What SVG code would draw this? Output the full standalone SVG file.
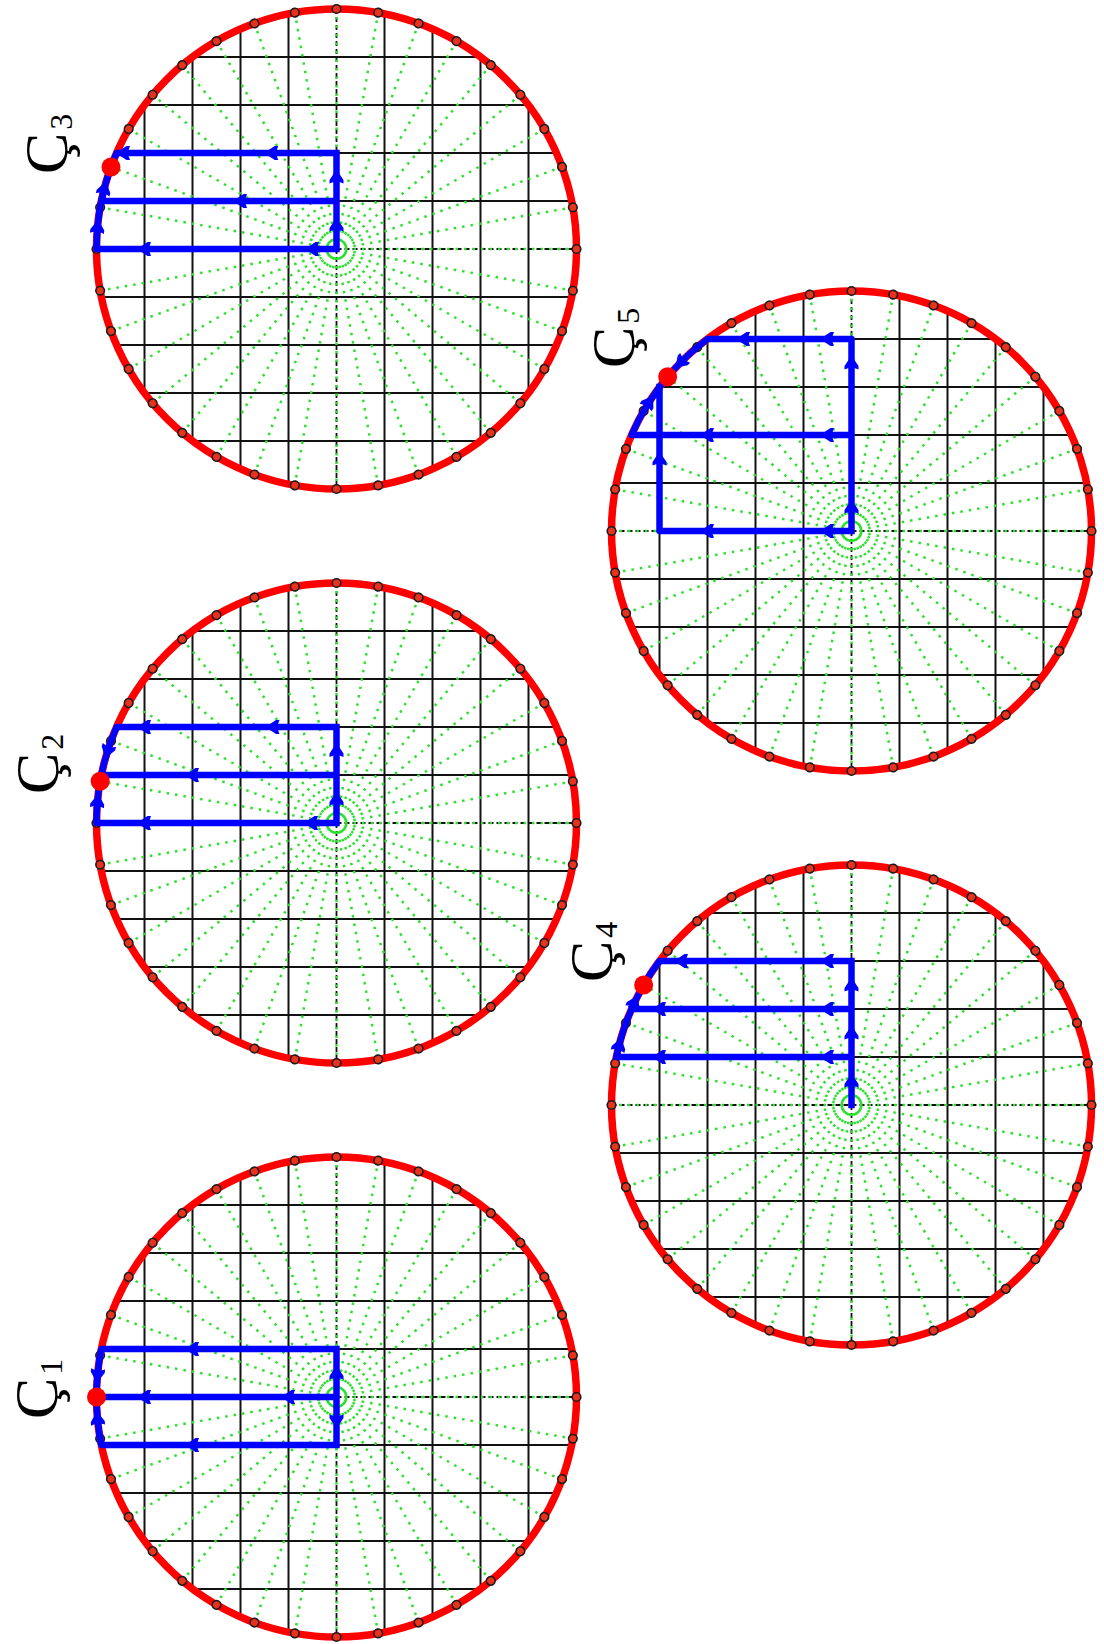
<svg xmlns="http://www.w3.org/2000/svg" xmlns:xlink="http://www.w3.org/1999/xlink" width="1104" height="1644" viewBox="0 0 1104 1644">
<style>
.grid{stroke:#111;stroke-width:2;fill:none}
.axis{stroke:#111;stroke-width:1.8;stroke-dasharray:5 3;fill:none}
.ray{stroke:#2ee02e;stroke-width:2.5;stroke-dasharray:2.5 6;fill:none}
.rim{fill:none;stroke:#ff0000;stroke-width:7.5}
.mk{fill:#e8321e;stroke:#1a1a1a;stroke-width:1.6}
.bp{fill:none;stroke:#0000ff;stroke-width:6.5;stroke-linejoin:round;stroke-linecap:square}
.arr{fill:#0000ff}
.dot{fill:#ff0000}
.lbl{font-family:"Liberation Serif","Times New Roman",serif;font-size:62px;fill:#000}
.sub{font-size:32px}
</style>
<defs>
<clipPath id="clip"><circle cx="0" cy="0" r="240"/></clipPath>
<line id="ray" class="ray" x1="0" y1="0" x2="240" y2="0"/>
<circle id="mk" class="mk" cx="240" cy="0" r="4.3"/>
<path id="ar" class="arr" d="M7.5,0 L-3,-7 L-6.5,-7 L-4,0 L-6.5,7 L-3,7 Z"/>
<g id="disc">
  <g clip-path="url(#clip)">
    <path class="grid" d="M-192,-240V240M-144,-240V240M-96,-240V240M-48,-240V240M48,-240V240M96,-240V240M144,-240V240M192,-240V240M-240,-192H240M-240,-144H240M-240,-96H240M-240,-48H240M-240,48H240M-240,96H240M-240,144H240M-240,192H240"/>
  </g>
  <path class="axis" d="M0,-240V240M-240,0H240"/>
  <use xlink:href="#ray" transform="rotate(0)"/><use xlink:href="#ray" transform="rotate(10)"/><use xlink:href="#ray" transform="rotate(20)"/><use xlink:href="#ray" transform="rotate(30)"/><use xlink:href="#ray" transform="rotate(40)"/><use xlink:href="#ray" transform="rotate(50)"/><use xlink:href="#ray" transform="rotate(60)"/><use xlink:href="#ray" transform="rotate(70)"/><use xlink:href="#ray" transform="rotate(80)"/><use xlink:href="#ray" transform="rotate(90)"/><use xlink:href="#ray" transform="rotate(100)"/><use xlink:href="#ray" transform="rotate(110)"/><use xlink:href="#ray" transform="rotate(120)"/><use xlink:href="#ray" transform="rotate(130)"/><use xlink:href="#ray" transform="rotate(140)"/><use xlink:href="#ray" transform="rotate(150)"/><use xlink:href="#ray" transform="rotate(160)"/><use xlink:href="#ray" transform="rotate(170)"/><use xlink:href="#ray" transform="rotate(180)"/><use xlink:href="#ray" transform="rotate(190)"/><use xlink:href="#ray" transform="rotate(200)"/><use xlink:href="#ray" transform="rotate(210)"/><use xlink:href="#ray" transform="rotate(220)"/><use xlink:href="#ray" transform="rotate(230)"/><use xlink:href="#ray" transform="rotate(240)"/><use xlink:href="#ray" transform="rotate(250)"/><use xlink:href="#ray" transform="rotate(260)"/><use xlink:href="#ray" transform="rotate(270)"/><use xlink:href="#ray" transform="rotate(280)"/><use xlink:href="#ray" transform="rotate(290)"/><use xlink:href="#ray" transform="rotate(300)"/><use xlink:href="#ray" transform="rotate(310)"/><use xlink:href="#ray" transform="rotate(320)"/><use xlink:href="#ray" transform="rotate(330)"/><use xlink:href="#ray" transform="rotate(340)"/><use xlink:href="#ray" transform="rotate(350)"/>
  <circle class="rim" cx="0" cy="0" r="240"/>
  <use xlink:href="#mk" transform="rotate(0)"/><use xlink:href="#mk" transform="rotate(10)"/><use xlink:href="#mk" transform="rotate(20)"/><use xlink:href="#mk" transform="rotate(30)"/><use xlink:href="#mk" transform="rotate(40)"/><use xlink:href="#mk" transform="rotate(50)"/><use xlink:href="#mk" transform="rotate(60)"/><use xlink:href="#mk" transform="rotate(70)"/><use xlink:href="#mk" transform="rotate(80)"/><use xlink:href="#mk" transform="rotate(90)"/><use xlink:href="#mk" transform="rotate(100)"/><use xlink:href="#mk" transform="rotate(110)"/><use xlink:href="#mk" transform="rotate(120)"/><use xlink:href="#mk" transform="rotate(130)"/><use xlink:href="#mk" transform="rotate(140)"/><use xlink:href="#mk" transform="rotate(150)"/><use xlink:href="#mk" transform="rotate(160)"/><use xlink:href="#mk" transform="rotate(170)"/><use xlink:href="#mk" transform="rotate(180)"/><use xlink:href="#mk" transform="rotate(190)"/><use xlink:href="#mk" transform="rotate(200)"/><use xlink:href="#mk" transform="rotate(210)"/><use xlink:href="#mk" transform="rotate(220)"/><use xlink:href="#mk" transform="rotate(230)"/><use xlink:href="#mk" transform="rotate(240)"/><use xlink:href="#mk" transform="rotate(250)"/><use xlink:href="#mk" transform="rotate(260)"/><use xlink:href="#mk" transform="rotate(270)"/><use xlink:href="#mk" transform="rotate(280)"/><use xlink:href="#mk" transform="rotate(290)"/><use xlink:href="#mk" transform="rotate(300)"/><use xlink:href="#mk" transform="rotate(310)"/><use xlink:href="#mk" transform="rotate(320)"/><use xlink:href="#mk" transform="rotate(330)"/><use xlink:href="#mk" transform="rotate(340)"/><use xlink:href="#mk" transform="rotate(350)"/>
</g>
</defs>
<rect x="0" y="0" width="1104" height="1644" fill="#fff"/>

<g id="C3" transform="translate(336.5,249)">
  <use xlink:href="#disc"/>
  <path class="bp" d="M0,0H-240A240,240 0 0 1 -225.53,-82.09M0,0V-96M0,-48H-235.15M0,-96H-219.96A240,240 0 0 0 -225.53,-82.09"/>
  <use xlink:href="#ar" transform="translate(-192,0) rotate(180)"/>
  <use xlink:href="#ar" transform="translate(-24,0) rotate(180)"/>
  <use xlink:href="#ar" transform="translate(-96,-48) rotate(180)"/>
  <use xlink:href="#ar" transform="translate(-64.8,-96) rotate(180)"/>
  <use xlink:href="#ar" transform="translate(-213,-96) rotate(180)"/>
  <use xlink:href="#ar" transform="translate(0,-72) rotate(-90)"/>
  <use xlink:href="#ar" transform="translate(0,-24) rotate(-90)"/>
  <use xlink:href="#ar" transform="translate(-232.25,-60.5) rotate(-75.4)"/>
  <use xlink:href="#ar" transform="translate(-238.97,-22.17) rotate(-84.7)"/>
  <circle class="dot" cx="-225.53" cy="-82.09" r="9.5"/>
  <text class="lbl" transform="translate(-269.5,-75) rotate(-90)">Ç<tspan class="sub" dx="3" dy="5">3</tspan></text>
</g>

<g id="C2" transform="translate(336.5,823)">
  <use xlink:href="#disc"/>
  <path class="bp" d="M0,0H-240A240,240 0 0 1 -236.35,-41.68M0,0V-96M0,-48H-235.15M0,-96H-219.96A240,240 0 0 0 -236.35,-41.68"/>
  <use xlink:href="#ar" transform="translate(-192,0) rotate(180)"/>
  <use xlink:href="#ar" transform="translate(-25,0) rotate(180)"/>
  <use xlink:href="#ar" transform="translate(-144,-48) rotate(180)"/>
  <use xlink:href="#ar" transform="translate(-192,-96) rotate(180)"/>
  <use xlink:href="#ar" transform="translate(-63.5,-96) rotate(180)"/>
  <use xlink:href="#ar" transform="translate(0,-24) rotate(-90)"/>
  <use xlink:href="#ar" transform="translate(0,-72.5) rotate(-90)"/>
  <use xlink:href="#ar" transform="translate(-229,-71.8) rotate(107.4)"/>
  <use xlink:href="#ar" transform="translate(-239,-21.75) rotate(-84.8)"/>
  <circle class="dot" cx="-236.35" cy="-41.68" r="9.5"/>
  <text class="lbl" transform="translate(-278.5,-29) rotate(-90)">Ç<tspan class="sub" dx="3" dy="5">2</tspan></text>
</g>

<g id="C1" transform="translate(336.5,1397)">
  <use xlink:href="#disc"/>
  <path class="bp" d="M0,-48V48M0,0H-240M0,-48H-235.15A240,240 0 0 0 -240,0M0,48H-235.15A240,240 0 0 1 -240,0"/>
  <use xlink:href="#ar" transform="translate(-192,0) rotate(180)"/>
  <use xlink:href="#ar" transform="translate(-48,0) rotate(180)"/>
  <use xlink:href="#ar" transform="translate(-144,-48) rotate(180)"/>
  <use xlink:href="#ar" transform="translate(-144,48) rotate(180)"/>
  <use xlink:href="#ar" transform="translate(0,-24) rotate(-90)"/>
  <use xlink:href="#ar" transform="translate(0,24) rotate(90)"/>
  <use xlink:href="#ar" transform="translate(-239,-21.75) rotate(95.2)"/>
  <use xlink:href="#ar" transform="translate(-239,21.75) rotate(-95.2)"/>
  <circle class="dot" cx="-240" cy="0" r="9.5"/>
  <text class="lbl" transform="translate(-279.5,22) rotate(-90)">Ç<tspan class="sub" dx="3" dy="5">1</tspan></text>
</g>

<g id="C5" transform="translate(851.5,531)">
  <use xlink:href="#disc"/>
  <path class="bp" d="M0,0V-192H-144A240,240 0 0 0 -183.85,-154.27M0,0H-192V-144M0,-96H-219.96A240,240 0 0 1 -183.85,-154.27"/>
  <use xlink:href="#ar" transform="translate(0,-24) rotate(-90)"/>
  <use xlink:href="#ar" transform="translate(0,-168) rotate(-90)"/>
  <use xlink:href="#ar" transform="translate(-24,0) rotate(180)"/>
  <use xlink:href="#ar" transform="translate(-144,0) rotate(180)"/>
  <use xlink:href="#ar" transform="translate(-192,-72) rotate(-90)"/>
  <use xlink:href="#ar" transform="translate(-24,-96) rotate(180)"/>
  <use xlink:href="#ar" transform="translate(-144,-96) rotate(180)"/>
  <use xlink:href="#ar" transform="translate(-24,-192) rotate(180)"/>
  <use xlink:href="#ar" transform="translate(-108,-192) rotate(180)"/>
  <use xlink:href="#ar" transform="translate(-202.4,-128.95) rotate(-57.5)"/>
  <use xlink:href="#ar" transform="translate(-170.9,-168.5) rotate(134.6)"/>
  <circle class="dot" cx="-183.85" cy="-154.27" r="9.5"/>
  <text class="lbl" transform="translate(-217.5,-163) rotate(-90)">Ç<tspan class="sub" dx="3" dy="5">5</tspan></text>
</g>

<g id="C4" transform="translate(851.5,1105)">
  <use xlink:href="#disc"/>
  <path class="bp" d="M0,0V-144M0,-48H-235.15A240,240 0 0 1 -207.85,-120M0,-96H-219.96M0,-144H-192A240,240 0 0 0 -207.85,-120"/>
  <use xlink:href="#ar" transform="translate(0,-24) rotate(-90)"/>
  <use xlink:href="#ar" transform="translate(0,-72) rotate(-90)"/>
  <use xlink:href="#ar" transform="translate(0,-120) rotate(-90)"/>
  <use xlink:href="#ar" transform="translate(-192,-48) rotate(180)"/>
  <use xlink:href="#ar" transform="translate(-24,-48) rotate(180)"/>
  <use xlink:href="#ar" transform="translate(-192,-96) rotate(180)"/>
  <use xlink:href="#ar" transform="translate(-24,-96) rotate(180)"/>
  <use xlink:href="#ar" transform="translate(-170,-144) rotate(180)"/>
  <use xlink:href="#ar" transform="translate(-24,-144) rotate(180)"/>
  <use xlink:href="#ar" transform="translate(-232.3,-60.1) rotate(-75.5)"/>
  <use xlink:href="#ar" transform="translate(-217,-102.6) rotate(-64.7)"/>
  <circle class="dot" cx="-207.85" cy="-120" r="9.5"/>
  <text class="lbl" transform="translate(-239.5,-123) rotate(-90)">Ç<tspan class="sub" dx="3" dy="5">4</tspan></text>
</g>
</svg>
